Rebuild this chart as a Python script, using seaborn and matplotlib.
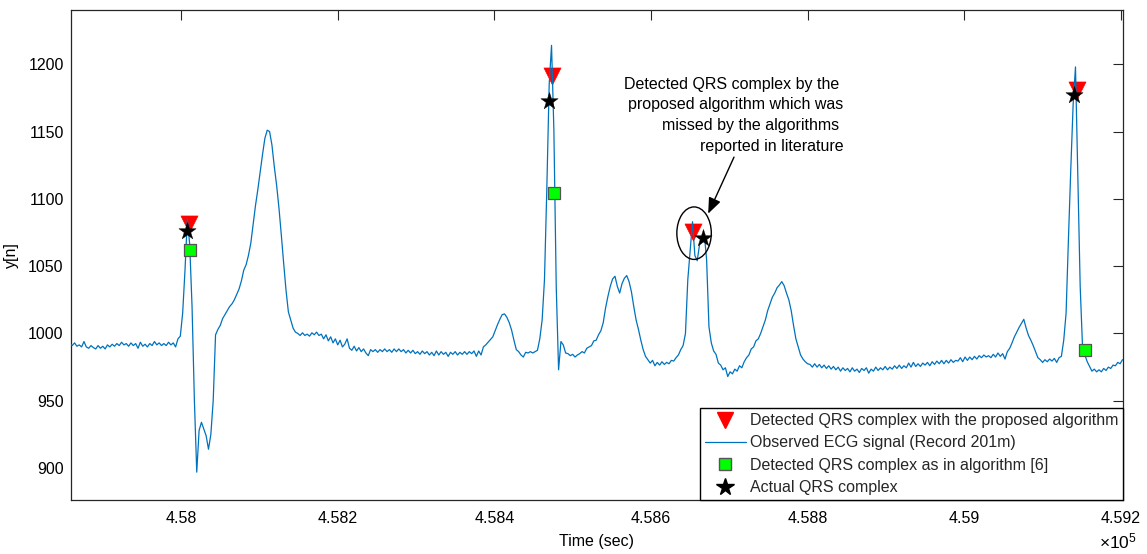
import numpy as np
import matplotlib
matplotlib.use("Agg")
import matplotlib.pyplot as plt
import seaborn as sns
from matplotlib.patches import Ellipse
from matplotlib.lines import Line2D
from matplotlib.ticker import FuncFormatter

# ---- ECG record 201m excerpt (sampled every 3 time units) ----
t_start = 457858
t_step = 3
ecg_values = [
    992.5, 991.0, 993.0, 990.5, 991.5, 990.0, 994.0, 990.0, 989.0, 991.0,
    989.5, 988.5, 991.0, 989.0, 990.5, 988.5, 991.5, 990.0, 992.0, 990.5,
    992.5, 991.0, 993.5, 991.5, 992.5, 990.5, 993.0, 991.0, 992.5, 989.0,
    993.5, 990.5, 992.0, 990.0, 992.5, 991.0, 994.0, 991.5, 993.0, 991.0,
    992.5, 991.0, 993.5, 991.5, 993.0, 990.0, 996.0, 998.0, 1015.0, 1047.0,
    1085.0, 1066.0, 1020.0, 950.0, 897.0, 928.0, 934.0, 929.0, 924.0, 914.0,
    925.0, 950.0, 999.0, 1003.0, 1006.0, 1011.0, 1014.0, 1017.0, 1020.0, 1022.0,
    1025.0, 1029.0, 1033.0, 1039.0, 1047.0, 1051.0, 1058.0, 1067.0, 1081.0, 1095.0,
    1107.0, 1120.0, 1133.0, 1145.0, 1151.0, 1150.0, 1140.0, 1124.0, 1110.0, 1093.0,
    1073.0, 1052.0, 1032.0, 1016.0, 1010.0, 1004.0, 1001.0, 1000.0, 998.5, 1000.5,
    998.5, 999.5, 998.0, 1000.5, 999.0, 1001.0, 998.5, 999.5, 996.0, 999.0,
    994.5, 997.5, 993.0, 996.0, 991.5, 995.0, 990.0, 992.0, 996.0, 989.0,
    987.5, 990.5, 987.0, 989.5, 986.5, 988.5, 985.5, 983.5, 988.0, 986.5,
    988.0, 986.0, 988.0, 986.5, 988.5, 986.5, 988.0, 986.0, 988.5, 986.5,
    988.5, 986.5, 988.0, 985.5, 987.5, 985.5, 987.5, 985.0, 986.5, 984.5,
    987.0, 985.0, 986.5, 984.0, 986.0, 983.5, 987.0, 984.0, 986.5, 984.5,
    986.0, 983.0, 986.0, 984.5, 986.5, 984.0, 986.0, 984.5, 986.5, 984.5,
    986.5, 985.0, 987.0, 983.0, 987.0, 984.0, 990.0, 991.5, 993.5, 995.5,
    997.5, 1002.0, 1006.5, 1010.5, 1014.0, 1014.5, 1012.0, 1008.0, 1002.5, 995.0,
    988.0, 986.5, 984.0, 982.5, 986.0, 985.5, 986.5, 985.5, 986.5, 987.5,
    996.0, 1010.0, 1040.0, 1108.0, 1185.0, 1214.0, 1151.0, 1035.0, 973.0, 994.0,
    991.5, 985.5, 985.0, 983.5, 984.5, 982.5, 984.0, 985.0, 986.5, 985.5,
    989.0, 990.0, 991.0, 994.5, 995.0, 999.0, 1002.0, 1008.0, 1019.0, 1027.5,
    1035.0, 1040.5, 1042.5, 1035.0, 1030.0, 1037.0, 1041.0, 1043.0, 1038.5, 1031.0,
    1020.0, 1010.0, 1003.0, 995.0, 988.0, 983.0, 980.5, 978.0, 980.0, 976.0,
    978.5, 976.5, 979.0, 977.0, 978.5, 977.5, 980.0, 979.5, 982.0, 984.0,
    988.0, 991.0, 1000.0, 1040.0, 1062.0, 1083.0, 1058.0, 1054.0, 1066.0, 1068.0,
    1074.0, 1055.0, 1005.0, 993.0, 987.0, 984.5, 978.0, 976.5, 973.0, 974.5,
    968.0, 971.5, 970.0, 973.5, 972.0, 976.0, 974.5, 979.0, 982.0, 984.0,
    988.5, 990.0, 994.5, 996.0, 1000.0, 1005.0, 1010.0, 1017.0, 1022.0, 1027.0,
    1030.0, 1034.0, 1036.0, 1038.5, 1035.5, 1030.0, 1025.0, 1017.0, 1006.0, 996.0,
    990.0, 984.0, 981.0, 979.0, 977.5, 977.0, 975.0, 977.5, 975.0, 977.0,
    974.5, 976.5, 974.0, 976.0, 973.5, 975.5, 973.0, 975.0, 972.0, 974.5,
    972.5, 974.0, 971.5, 974.5, 972.0, 973.5, 971.0, 974.0, 972.5, 974.5,
    970.5, 973.5, 972.0, 975.0, 972.5, 974.5, 973.0, 975.5, 973.0, 975.0,
    973.5, 976.0, 974.0, 976.5, 974.0, 976.0, 974.5, 978.0, 975.0, 978.5,
    975.5, 977.5, 975.5, 978.0, 976.5, 978.5, 976.0, 979.0, 977.0, 979.5,
    977.5, 980.0, 977.5, 980.0, 978.0, 980.5, 978.5, 980.0, 979.5, 982.0,
    979.0, 982.5, 980.0, 982.5, 980.5, 983.0, 981.0, 983.5, 982.0, 984.0,
    982.5, 983.5, 982.0, 984.5, 982.5, 985.5, 983.0, 985.0, 981.0, 986.5,
    989.0, 993.0, 997.5, 1001.0, 1004.5, 1007.5, 1010.5, 1004.0, 998.5, 995.0,
    991.0, 986.5, 982.0, 980.5, 978.5, 980.5, 979.0, 981.0, 979.5, 981.5,
    978.5, 982.0, 983.0, 995.0, 1015.0, 1070.0, 1122.0, 1170.0, 1198.0, 1115.0,
    1035.0, 990.0, 984.0, 979.0, 975.5, 972.0, 973.5, 971.5, 973.0, 971.5,
    974.0, 972.5, 975.0, 974.0, 976.5, 976.0, 978.5, 977.5, 980.5, 980.0,
]
ecg_time = t_start + t_step * np.arange(len(ecg_values))

# ---- QRS detections ----
proposed_t = [458010, 458474, 458654, 459144]
proposed_y = [1081, 1191, 1075, 1181]
ref6_t = [458011, 458476, 459154]
ref6_y = [1062, 1104, 988]
actual_t = [458007, 458470, 458667, 459140]
actual_y = [1076, 1173, 1071, 1177]

x_ticks = [458000, 458200, 458400, 458600, 458800, 459000, 459200]
y_ticks = [900, 950, 1000, 1050, 1100, 1150, 1200]

legend_labels = [
    "Detected QRS complex with the proposed algorithm",
    "Observed ECG signal (Record 201m)",
    "Detected QRS complex as in algorithm [6]",
    "Actual QRS complex",
]
note_text = ("Detected QRS complex by the \n"
             "proposed algorithm which was\n"
             "missed by the algorithms \n"
             "reported in literature")

# ---- style ----
sns.set_theme(style="white")
plt.rcParams["font.family"] = ["Liberation Sans", "DejaVu Sans"]
plt.rcParams["mathtext.fontset"] = "custom"
plt.rcParams["mathtext.rm"] = "Liberation Sans"

AX_COL = "#262626"
LINE_COL = "#0072BD"
FS = 11.5

fig, ax = plt.subplots(figsize=(11.47, 5.54), dpi=100)
fig.subplots_adjust(left=0.0616, right=0.9793, bottom=0.0975, top=0.982)

sns.scatterplot(x=proposed_t, y=proposed_y, marker="v", s=150, color="#FF0000",
                edgecolor="#FF0000", linewidth=0.5, ax=ax, zorder=2, legend=False)
sns.lineplot(x=ecg_time, y=ecg_values, color=LINE_COL, linewidth=0.9,
             estimator=None, sort=False, ax=ax, zorder=3, legend=False)
sns.scatterplot(x=ref6_t, y=ref6_y, marker="s", s=64, color="#00FF00",
                edgecolor="#555555", linewidth=0.9, ax=ax, zorder=4, legend=False)
sns.scatterplot(x=actual_t, y=actual_y, marker="*", s=170, color="black",
                edgecolor="black", linewidth=0.3, ax=ax, zorder=5, legend=False)

# highlight of the missed beat, with its note and arrow
ax.add_patch(Ellipse((458655, 1074.5), 44, 39, fill=False, edgecolor="black",
                     linewidth=1.0, zorder=6))
ax.text(458846, 1162, note_text, ha="right", va="center", multialignment="right",
        fontsize=FS, color="black", zorder=7, linespacing=1.48)
ax.annotate("", xy=(458673, 1089), xytext=(458706, 1131),
            arrowprops=dict(arrowstyle="-|>,head_length=0.8,head_width=0.32",
                            color="black", lw=1.0, shrinkA=0, shrinkB=0),
            zorder=7)

ax.set_xlim(457859, 459203)
ax.set_ylim(876.3, 1240.3)
ax.set_xticks(x_ticks)
ax.set_yticks(y_ticks)
ax.xaxis.set_major_formatter(FuncFormatter(lambda v, p: f"{v / 1e5:g}"))
ax.tick_params(direction="in", length=7, width=0.8, top=True, right=True,
               colors=AX_COL, labelsize=FS, labelcolor="black")
ax.tick_params(axis="x", pad=8)
ax.tick_params(axis="y", pad=5)
for sp in ax.spines.values():
    sp.set_color(AX_COL)
    sp.set_linewidth(0.9)

ax.set_xlabel("Time (sec)", fontsize=FS, color="black", labelpad=6)
ax.set_ylabel("y[n]", fontsize=FS, color="black", labelpad=7)
fig.text(0.991, 0.0095, r"$\times\mathregular{10^{5}}$", ha="right", va="baseline",
         fontsize=12.5, color="black")

handles = [
    Line2D([], [], linestyle="none", marker="v", markersize=12,
           markerfacecolor="#FF0000", markeredgecolor="#FF0000"),
    Line2D([], [], color=LINE_COL, linewidth=0.9),
    Line2D([], [], linestyle="none", marker="s", markersize=8,
           markerfacecolor="#00FF00", markeredgecolor="#555555"),
    Line2D([], [], linestyle="none", marker="*", markersize=13,
           markerfacecolor="black", markeredgecolor="black"),
]
leg = ax.legend(handles, legend_labels, loc="lower right", borderaxespad=0,
                frameon=True, fancybox=False, framealpha=1, edgecolor="black",
                fontsize=FS, handlelength=2.6, handletextpad=0.25,
                borderpad=0.3, labelspacing=0.46)
leg.get_frame().set_linewidth(1.0)
leg.set_zorder(10)

fig.savefig("out.png", dpi=100)
